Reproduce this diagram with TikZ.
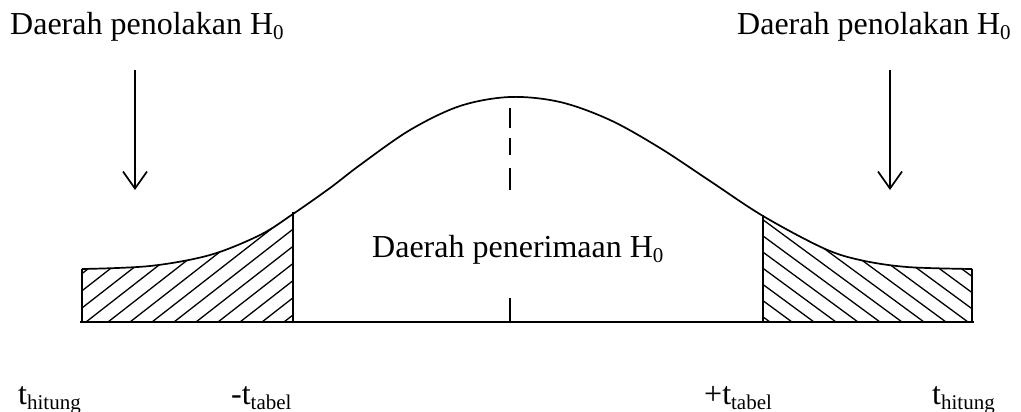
\documentclass[tikz,border=0pt]{standalone}
\usepackage{fontspec}
\setmainfont{Liberation Serif}
\usetikzlibrary{arrows.meta}
\newcommand{\lowsub}[1]{\raisebox{-5pt}{\fontsize{21}{21}\selectfont #1}}
\begin{document}
\begin{tikzpicture}[x=1pt,y=-1pt,
  lbl/.style={inner sep=0pt,anchor=base west,font=\fontsize{32}{36}\selectfont},
  ln/.style={line width=1.7pt},
  hatch/.style={line width=1.3pt},
  arr/.style={ln,-{Straight Barb[length=17pt,width=24pt,line width=1.7pt]}}]
\useasboundingbox (0,0) rectangle (1021,412);
% titles
\node[lbl] (tl) at (10,35) {Daerah penolakan H\lowsub{0}};
\node[lbl] (tr) at (737,35) {Daerah penolakan H\lowsub{0}};
\node[lbl] (mid) at (372,257) {Daerah penerimaan H\lowsub{0}};
% bottom labels
\node[lbl] (b1) at (18,404) {t\lowsub{hitung}};
\node[lbl] (b2) at (231,404) {-t\lowsub{tabel}};
\node[lbl] (b3) at (704,404) {+t\lowsub{tabel}};
\node[lbl] (b4) at (932,404) {t\lowsub{hitung}};
% arrows
\coordinate (a1s) at (135,70); \coordinate (a1e) at (135,190);
\coordinate (a2s) at (890,70); \coordinate (a2e) at (890,190);
\draw[arr] (a1s) -- (a1e);
\draw[arr] (a2s) -- (a2e);
% hatching
\begin{scope}
\clip (82,322) -- plot[smooth,tension=0.55] coordinates {(82,269) (150,266) (210,255) (260,235) (293,214) (330,188) (360,165) (410,130) (460,106) (510,97) (560,102) (610,120) (660,148) (710,181) (763,216) (823,248) (860,260) (907,267) (972,269)} -- (972,322) -- cycle;
\begin{scope}
\clip (82,0) rectangle (293,322);
\foreach \c in {-200,-178,...,300} \draw[hatch] (\c,322) -- ++(300,-234);
\end{scope}
\begin{scope}
\clip (763,0) rectangle (972,322);
\foreach \c in {770,792,...,1300} \draw[hatch] (\c,322) -- ++(-340,-250);
\end{scope}
\end{scope}
% curve and frame
\draw[ln] plot[smooth,tension=0.55] coordinates {(82,269) (150,266) (210,255) (260,235) (293,214) (330,188) (360,165) (410,130) (460,106) (510,97) (560,102) (610,120) (660,148) (710,181) (763,216) (823,248) (860,260) (907,267) (972,269)};
\draw[ln] (82,269) -- (82,322);
\draw[ln] (972,269) -- (972,322);
\draw[ln] (80,322) -- (974,322);
\draw[ln] (293,212) -- (293,322);
\draw[ln] (763,215) -- (763,322);
% dashed centre
\draw[ln] (510,108) -- (510,128);
\draw[ln] (510,138) -- (510,155);
\draw[ln] (510,168) -- (510,190);
\draw[ln] (510,298) -- (510,322);
\end{tikzpicture}
\end{document}
